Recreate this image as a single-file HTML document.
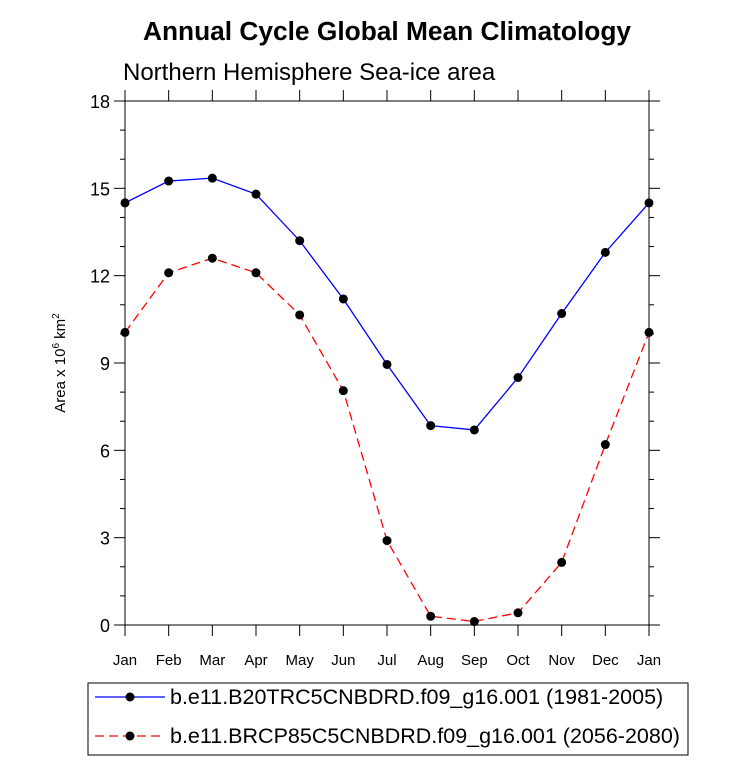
<!DOCTYPE html>
<html><head><meta charset="utf-8"><style>
body{margin:0;background:#fff;}
svg text{font-family:"Liberation Sans",Arial,sans-serif;}
</style></head><body>
<svg id="chart" width="733" height="777">
<text x="387" y="40" text-anchor="middle" font-size="26.3" font-weight="bold">Annual Cycle Global Mean Climatology</text>
<text x="123" y="80" font-size="24">Northern Hemisphere Sea-ice area</text>
<text transform="translate(65,363) rotate(-90)" text-anchor="middle" font-size="15">Area x 10<tspan dy="-6" font-size="10">6</tspan><tspan dy="6"> km</tspan><tspan dy="-6" font-size="10">2</tspan></text>
<rect x="125" y="101" width="524" height="524" fill="none" stroke="#000" stroke-width="1"/>
<g id="axes"></g>
<g id="series"></g>
<rect x="88" y="683" width="600" height="72" fill="none" stroke="#000"/>
<g>
<line x1="95" y1="697" x2="165" y2="697" stroke="#0000ff" stroke-width="1.3"/>
<circle cx="130" cy="697" r="4.5" fill="#000"/>
<text x="170" y="704" font-size="21.5">b.e11.B20TRC5CNBDRD.f09_g16.001 (1981-2005)</text>
</g>
<g>
<line x1="95" y1="736" x2="165" y2="736" stroke="#ff0000" stroke-width="1.3" stroke-dasharray="9,5"/>
<circle cx="130" cy="736" r="4.5" fill="#000"/>
<text x="170" y="743" font-size="21.5">b.e11.BRCP85C5CNBDRD.f09_g16.001 (2056-2080)</text>
</g>
</svg>
<script>
const months=["Jan","Feb","Mar","Apr","May","Jun","Jul","Aug","Sep","Oct","Nov","Dec","Jan"];
const histValues=[14.5,15.25,15.35,14.8,13.2,11.2,8.95,6.85,6.7,8.5,10.7,12.8,14.5];
const rcpValues=[10.05,12.1,12.6,12.1,10.65,8.05,2.9,0.3,0.12,0.42,2.15,6.2,10.05];
const yTicks=[0,3,6,9,12,15,18];
const NS="http://www.w3.org/2000/svg";
const X0=125,X1=649,Y0=625,Y1=101;
function xs(i){return X0+(X1-X0)*i/(months.length-1);}
function ys(v){return Y0-(Y0-Y1)*v/18;}
function mk(t,a,p){const e=document.createElementNS(NS,t);for(const k in a)e.setAttribute(k,a[k]);p.appendChild(e);return e;}
const ax=document.getElementById('axes');
months.forEach((m,i)=>{const x=xs(i);
 const t1=mk('line',{x1:x,y1:Y0,x2:x,y2:Y0+11,stroke:'#000'},ax);
 
 
 mk('line',{x1:x,y1:Y1,x2:x,y2:Y1-11,stroke:'#000'},ax);
 const l=mk('text',{x:x,y:Y0+40,'text-anchor':'middle','font-size':15},ax);l.textContent=m;
 
 
});
for(let v=0;v<=18;v++){const y=ys(v);const major=v%3===0;const len=major?11:5;
 mk('line',{x1:X0,y1:y,x2:X0-len,y2:y,stroke:'#000'},ax);
 mk('line',{x1:X1,y1:y,x2:X1+len,y2:y,stroke:'#000'},ax);
}
yTicks.forEach(v=>{const l=mk('text',{x:X0-15,y:ys(v)+7,'text-anchor':'end','font-size':18},ax);l.textContent=v;
 
 });
const sg=document.getElementById('series');
function draw(vals,color,dash,name){
 const pts=vals.map((v,i)=>xs(i)+','+ys(v)).join(' ');
 const pl=mk('polyline',{points:pts,fill:'none',stroke:color,'stroke-width':1.3,'stroke-dasharray':dash},sg);
 
 
 vals.forEach((v,i)=>{const c=mk('circle',{cx:xs(i),cy:ys(v),r:4.5,fill:'#000'},sg);
  
  });
}
draw(histValues,'#0000ff','none','historical');
draw(rcpValues,'#ff0000','9,5','rcp85');
</script>
</body></html>
